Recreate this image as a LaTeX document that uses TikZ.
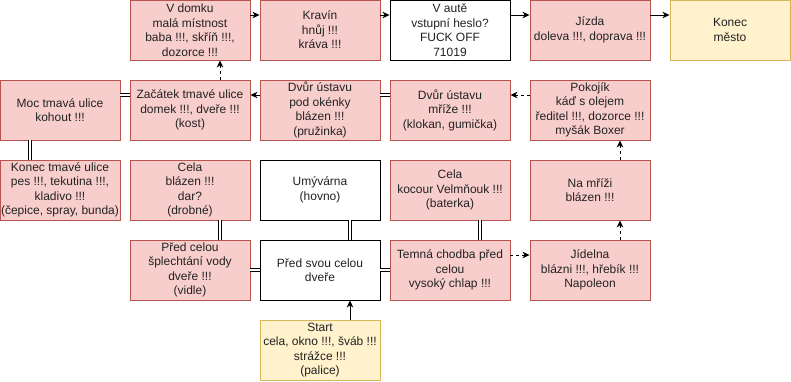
\documentclass[tikz,border=0pt]{standalone}
\usepackage{fontspec}
\setmainfont{Liberation Sans}
\usetikzlibrary{arrows.meta}
\definecolor{pinkfill}{HTML}{F8CECC}
\definecolor{pinkdraw}{HTML}{B85450}
\definecolor{yelfill}{HTML}{FFF2CC}
\definecolor{yeldraw}{HTML}{D6B656}
\definecolor{txt}{HTML}{222222}
\tikzset{
  box/.style={draw, line width=0.9pt, minimum width=120pt, minimum height=60pt,
    inner sep=0pt, align=center, text=txt, font=\fontsize{12}{14.5}\selectfont},
  pinkbox/.style={box, fill=pinkfill, draw=pinkdraw},
  yelbox/.style={box, fill=yelfill, draw=yeldraw},
  whitebox/.style={box, fill=white, draw=black},
  arr/.style={line width=0.9pt, -{Stealth[length=7pt,width=6.5pt,inset=2pt]}},
  darr/.style={arr, dash pattern=on 3pt off 3pt},
  link/.style={draw=black, double=white, double distance=2.4pt, line width=0.8pt}
}
\begin{document}
\begin{tikzpicture}[x=1pt,y=-1pt]
\useasboundingbox (0,0) rectangle (791,381);
% row 1
\node[pinkbox] (vdomku) at (190,30) {V domku\\malá místnost\\baba !!!, skříň !!!,\\dozorce !!!};
\node[pinkbox] (kravin) at (320,30) {Kravín\\hnůj !!!\\kráva !!!};
\node[whitebox] (vaute) at (450,30) {V autě\\vstupní heslo?\\FUCK OFF\\71019};
\node[pinkbox] (jizda) at (590,30) {Jízda\\doleva !!!, doprava !!!};
\node[yelbox] (konec) at (730,30) {Konec\\město};
% row 2
\node[pinkbox] (moc) at (60,110) {Moc tmavá ulice\\kohout !!!};
\node[pinkbox] (zacatek) at (190,110) {Začátek tmavé ulice\\domek !!!, dveře !!!\\(kost)};
\node[pinkbox] (dvurok) at (320,110) {Dvůr ústavu\\pod okénky\\blázen !!!\\(pružinka)};
\node[pinkbox] (dvurmr) at (450,110) {Dvůr ústavu\\mříže !!!\\(klokan, gumička)};
\node[pinkbox] (pokojik) at (590,110) {Pokojík\\káď s olejem\\ředitel !!!, dozorce !!!\\myšák Boxer};
% row 3
\node[pinkbox] (konectm) at (60,190) {Konec tmavé ulice\\pes !!!, tekutina !!!,\\kladivo !!!\\(čepice, spray, bunda)};
\node[pinkbox] (celabl) at (190,190) {Cela\\blázen !!!\\dar?\\(drobné)};
\node[whitebox] (umyv) at (320,190) {Umývárna\\(hovno)};
\node[pinkbox] (celakoc) at (450,190) {Cela\\kocour Velmňouk !!!\\(baterka)};
\node[pinkbox] (namrizi) at (590,190) {Na mříži\\blázen !!!};
% row 4
\node[pinkbox] (predcelou) at (190,270) {Před celou\\šplechtání vody\\dveře !!!\\(vidle)};
\node[whitebox] (predsvou) at (320,270) {Před svou celou\\dveře};
\node[pinkbox] (temna) at (450,270) {Temná chodba před\\celou\\vysoký chlap !!!};
\node[pinkbox] (jidelna) at (590,270) {Jídelna\\blázni !!!, hřebík !!!\\Napoleon};
% row 5
\node[yelbox] (start) at (320,350) {Start\\cela, okno !!!, šváb !!!\\strážce !!!\\(palice)};

% solid arrows
\draw[arr] ([yshift=15pt]vdomku.east) -- ([yshift=15pt]kravin.west);
\draw[arr] ([yshift=15pt]kravin.east) -- ([yshift=15pt]vaute.west);
\draw[arr] ([yshift=15pt]vaute.east) -- ([yshift=15pt]jizda.west);
\draw[arr] ([yshift=15pt]jizda.east) -- ([yshift=15pt]konec.west);
\draw[arr] ([yshift=15pt]dvurok.west) -- ([yshift=15pt]zacatek.east);
\draw[arr] ([xshift=30pt]start.north) -- ([xshift=30pt]predsvou.south);
% dashed arrows
\draw[darr] ([xshift=30pt]zacatek.north) -- ([xshift=30pt]vdomku.south);
\draw[darr] ([yshift=15pt]pokojik.west) -- ([yshift=15pt]dvurmr.east);
\draw[darr] ([xshift=30pt]namrizi.north) -- ([xshift=30pt]pokojik.south);
\draw[darr] ([xshift=30pt]jidelna.north) -- ([xshift=30pt]namrizi.south);
\draw[darr] ([yshift=15pt]temna.east) -- ([yshift=15pt]jidelna.west);
% double links
\draw[link] ([yshift=15pt]moc.east) -- ([yshift=15pt]zacatek.west);
\draw[link] ([yshift=15pt]dvurmr.west) -- ([yshift=15pt]dvurok.east);
\draw[link] ([xshift=-30pt]moc.south) -- ([xshift=-30pt]konectm.north);
\draw[link] ([xshift=30pt]celabl.south) -- ([xshift=30pt]predcelou.north);
\draw[link] ([xshift=30pt]umyv.south) -- ([xshift=30pt]predsvou.north);
\draw[link] ([xshift=30pt]celakoc.south) -- ([xshift=30pt]temna.north);
\draw[link] (predcelou.east) -- (predsvou.west);
\draw[link] (predsvou.east) -- (temna.west);
\end{tikzpicture}
\end{document}
